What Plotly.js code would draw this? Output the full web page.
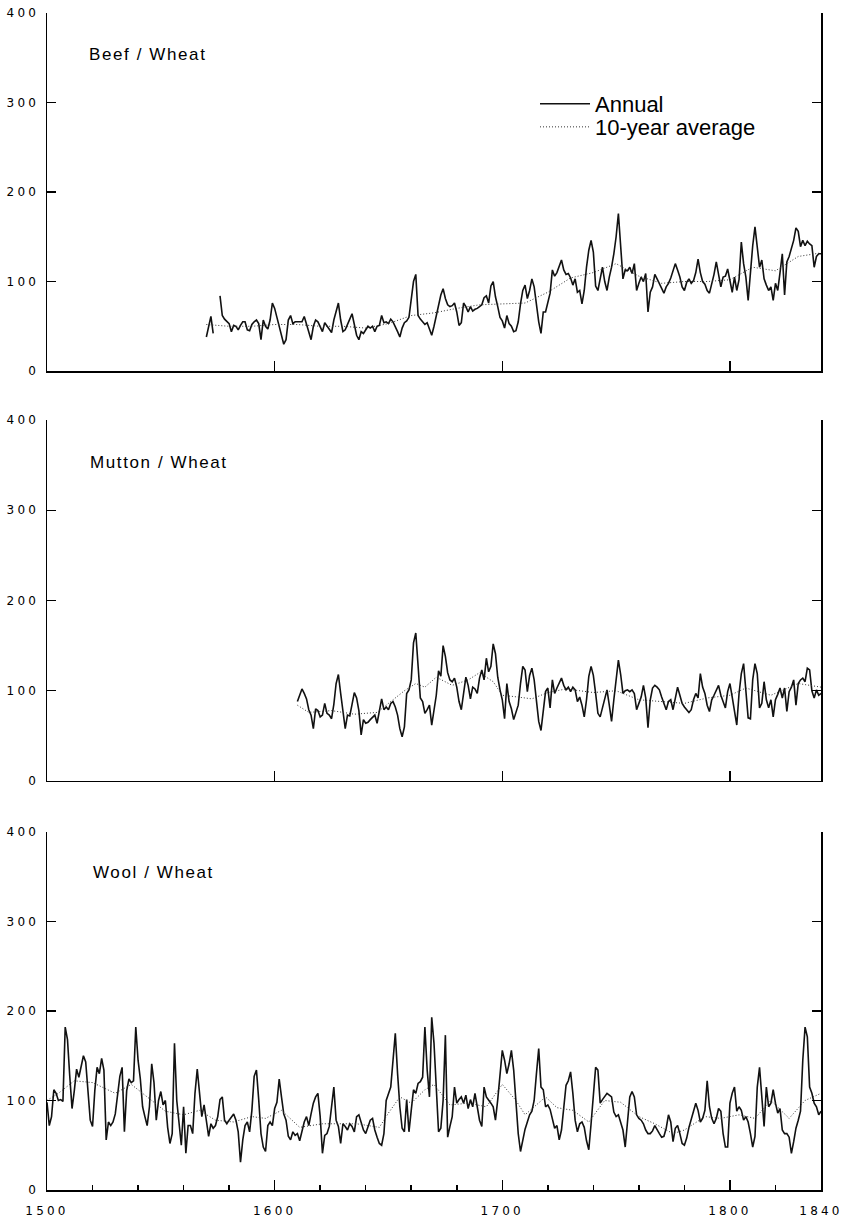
<!DOCTYPE html>
<html><head><meta charset="utf-8">
<script src="https://cdn.plot.ly/plotly-3.0.1.min.js"></script>
<style>
html,body{margin:0;padding:0;background:#fff;}
#chart{width:847px;height:1223px;}
.xaxislayer-above g text, .yaxislayer-above g text{letter-spacing:3.2px;}
.annotation-text{letter-spacing:1.6px;}
</style></head><body><div id="chart"></div>
<script>
// ---------------- DATA ----------------
const beefStart = 1570;
const beefAnnual = [
 38,50,61,42,null,null,84,62,58,55,
 53,44,51,50,46,51,55,55,46,45,
 52,55,57,53,35,57,50,47,57,76,
 70,60,50,38,30,35,57,62,53,55,
 55,55,55,61,53,44,35,50,57,55,
 50,44,54,50,46,43,57,68,76,57,
 44,46,53,58,64,50,40,35,44,42,
 46,50,48,50,44,50,51,62,54,55,
 53,58,55,50,44,38,48,54,56,60,
 80,100,108,62,58,55,52,54,48,40,
 50,62,72,85,92,81,74,72,73,76,
 66,51,54,76,72,66,72,67,69,70,
 72,74,82,84,76,95,100,83,72,60,
 56,48,62,53,50,44,45,55,75,90,
 96,81,90,103,94,72,55,42,66,66,
 78,87,113,106,110,116,124,113,108,109,
 104,96,103,88,90,75,90,116,135,146,
 133,95,90,103,116,100,90,105,116,131,
 150,176,140,103,113,112,116,109,120,90,
 98,105,100,109,66,88,94,108,103,98,
 92,87,94,98,104,112,120,113,105,94,
 90,99,103,98,101,110,125,110,100,97,
 90,87,96,108,122,108,94,105,106,114,
 100,88,105,90,102,144,120,105,79,110,
 140,161,135,116,124,103,96,90,94,79,
 98,90,110,131,85,122,128,137,146,160,
 156,139,146,140,145,142,140,116,128,131,
 131];
const beefAvgYears = [1570,1580,1590,1600,1610,1620,1630,1640,1650,1660,1670,1680,1690,1700,1710,1720,1730,1740,1750,1760,1770,1780,1790,1800,1810,1820,1830,1840];
const beefAvg = [52,50,50,52,52,50,50,48,53,62,65,70,74,75,76,88,104,110,120,106,98,100,100,102,116,112,128,132];

const muttonStart = 1610;
const muttonAnnual = [
 88,95,102,97,91,79,73,58,80,78,
 71,73,86,75,73,69,85,108,118,97,
 77,58,73,72,85,98,92,78,51,68,
 64,65,68,71,73,64,79,91,79,82,
 79,86,88,82,73,58,49,60,97,101,
 112,153,164,127,92,88,75,79,84,62,
 77,95,122,116,150,138,120,112,110,114,
 104,88,79,97,115,106,91,104,102,97,
 114,123,112,136,121,127,152,141,115,101,
 90,69,108,88,80,68,75,84,108,127,
 123,99,117,125,112,90,66,56,79,99,
 103,81,112,97,103,108,114,106,101,104,
 99,104,101,88,93,84,71,90,116,127,
 117,97,75,71,82,92,101,84,66,90,
 116,134,118,97,100,101,99,101,97,79,
 86,93,106,92,59,90,103,106,104,101,
 93,86,79,88,90,79,90,104,95,86,
 82,79,76,79,90,97,92,119,104,97,
 84,77,90,95,100,106,95,88,81,99,
 108,93,79,62,97,119,130,101,70,69,
 112,130,119,81,86,110,90,81,90,71,
 90,96,103,92,103,77,99,104,112,84,
 108,112,114,110,125,123,100,92,101,95,
 97];
const muttonAvgYears = [1610,1615,1625,1635,1645,1650,1657,1662,1666,1671,1678,1685,1690,1696,1700,1707,1713,1720,1728,1740,1750,1760,1770,1780,1790,1800,1807,1818,1830,1840];
const muttonAvg = [84,76,78,74,76,86,100,108,104,115,106,112,120,110,95,93,91,98,102,98,100,90,88,86,92,95,103,95,108,104];

const woolStart = 1500;
const woolAnnual = [
 98,72,82,112,108,100,101,99,182,168,
 127,91,111,135,126,137,150,143,115,78,
 71,111,137,130,147,134,56,76,72,76,
 85,108,127,137,65,111,124,120,122,182,
 145,124,93,82,72,93,141,120,78,100,
 110,95,100,70,52,63,164,100,72,50,
 93,41,72,72,63,108,135,108,82,95,
 78,60,74,69,72,82,101,104,78,74,
 78,82,85,78,65,31,56,72,76,65,
 89,127,134,101,63,48,43,72,76,72,
 91,98,124,104,85,78,60,56,65,61,
 63,55,65,76,82,72,85,97,104,108,
 82,41,61,63,71,93,115,78,71,52,
 74,71,67,74,71,65,82,84,74,67,
 63,70,78,80,67,59,52,50,63,100,
 108,115,145,175,130,93,69,65,101,65,
 89,112,108,119,121,126,182,134,104,193,
 164,119,65,69,100,173,59,71,82,115,
 97,101,104,97,106,91,101,93,108,93,
 78,71,115,104,101,97,93,78,101,130,
 156,145,130,141,156,134,101,63,43,56,
 68,76,84,88,100,130,158,115,112,93,
 95,90,78,69,72,56,67,93,117,122,
 132,108,78,65,74,76,70,55,45,74,
 108,137,134,97,101,104,108,106,104,87,
 82,84,76,67,48,78,104,110,104,84,
 80,78,74,67,63,63,66,72,67,63,
 59,60,69,84,76,54,69,72,63,52,
 50,58,70,78,88,97,89,76,80,89,
 122,93,80,74,80,91,88,63,48,48,
 97,108,115,88,93,89,78,82,76,63,
 48,60,115,137,101,71,115,93,97,112,
 97,86,91,67,63,63,59,41,54,69,
 78,88,145,182,171,115,108,97,93,84,
 88];
const woolAvgYears = [1500,1505,1512,1520,1530,1537,1546,1552,1560,1567,1574,1582,1590,1596,1603,1611,1621,1636,1646,1650,1655,1660,1666,1670,1677,1685,1693,1700,1706,1710,1719,1724,1731,1738,1745,1752,1760,1767,1775,1780,1789,1796,1804,1811,1818,1826,1833,1840];
const woolAvg = [100,108,122,120,108,118,100,88,84,89,78,76,82,80,89,70,74,74,70,86,104,97,112,118,95,97,93,118,100,84,104,92,89,76,100,98,82,74,63,67,82,80,84,80,100,80,100,108];

const panelTitles = ['Beef / Wheat', 'Mutton / Wheat', 'Wool / Wheat'];
const yTicks = [0, 100, 200, 300, 400];
const centuryTicks = [1600, 1700, 1800];
const bottomTickVals = [1500, 1600, 1700, 1800, 1840];
const bottomTickText = ['1500', '1600', '1700', '1800', '1840'];
const legendNames = ['Annual', '10-year average'];

// ---------------- BUILD ----------------
const yearsFrom = (start, arr) => arr.map((_, i) => start + i);
const FONT = 'Liberation Sans, Arial, sans-serif';
const annualLine = {color: '#111', width: 1.6};
const avgLine = {color: '#333', width: 1, dash: '1px,2px'};

function pair(start, annual, avgYears, avg, xa, ya, show) {
  return [
    {x: yearsFrom(start, annual), y: annual, xaxis: xa, yaxis: ya, type: 'scatter', mode: 'lines',
     line: annualLine, connectgaps: false, name: legendNames[0], showlegend: show, legend: 'legend', hoverinfo: 'skip'},
    {x: avgYears, y: avg, xaxis: xa, yaxis: ya, type: 'scatter', mode: 'lines',
     line: avgLine, name: legendNames[1], showlegend: show, legend: 'legend2', hoverinfo: 'skip'}
  ];
}

const traces = [
  ...pair(beefStart, beefAnnual, beefAvgYears, beefAvg, 'x', 'y', true),
  ...pair(muttonStart, muttonAnnual, muttonAvgYears, muttonAvg, 'x2', 'y2', false),
  ...pair(woolStart, woolAnnual, woolAvgYears, woolAvg, 'x3', 'y3', false)
];

function yAxis(domain) {
  return {domain: domain, range: [0, 400], tickvals: yTicks, ticks: 'inside', ticklen: 9, tickwidth: 1.5,
    tickcolor: '#000', showline: true, linewidth: 1.5, linecolor: '#000', mirror: 'ticks',
    showgrid: false, zeroline: false, fixedrange: true, ticklabelstandoff: 4,
    tickfont: {family: 'DejaVu Sans, sans-serif', size: 12, color: '#000'}};
}
function xAxis(anchor, bottom) {
  const a = {anchor: anchor, domain: [0, 1], range: [1500, 1840], showline: true, linewidth: 1.5,
    linecolor: '#000', ticks: 'inside', ticklen: 10, tickwidth: 1.5, tickcolor: '#000',
    showgrid: false, zeroline: false, fixedrange: true, mirror: false,
    tickfont: {family: 'DejaVu Sans, sans-serif', size: 12, color: '#000'}};
  if (bottom) {
    a.tickvals = bottomTickVals; a.ticktext = bottomTickText; a.showticklabels = true;
    a.ticklabelstandoff = 9;
    a.minor = {tickmode: 'linear', tick0: 1500, dtick: 20, ticks: 'inside', ticklen: 5, tickwidth: 1.5, tickcolor: '#000', showgrid: false};
  } else {
    a.tickvals = centuryTicks; a.showticklabels = false;
  }
  return a;
}

const layout = {
  width: 847, height: 1223,
  margin: {l: 47, r: 26, t: 13, b: 33},
  paper_bgcolor: '#fff', plot_bgcolor: '#fff',
  font: {family: FONT, color: '#000'},
  showlegend: true,
  xaxis: xAxis('y', false), yaxis: yAxis([0.6958, 1]),
  xaxis2: xAxis('y2', false), yaxis2: yAxis([0.3475, 0.6542]),
  xaxis3: xAxis('y3', true), yaxis3: yAxis([0, 0.3042]),
  legend: {x: 0.6305, y: 0.9227, xanchor: 'left', yanchor: 'middle', itemwidth: 50,
    font: {family: FONT, size: 22, color: '#000'}, bgcolor: 'rgba(0,0,0,0)', borderwidth: 0},
  legend2: {x: 0.6305, y: 0.9031, xanchor: 'left', yanchor: 'middle', itemwidth: 50,
    font: {family: FONT, size: 22, color: '#000'}, bgcolor: 'rgba(0,0,0,0)', borderwidth: 0},
  annotations: panelTitles.map((t, i) => ({
    text: t, xref: 'paper', yref: (i === 0 ? 'y' : 'y' + (i + 1)) + ' domain',
    x: [0.052, 0.053, 0.057][i], y: [0.883, 0.881, 0.888][i],
    xanchor: 'left', yanchor: 'middle', showarrow: false,
    font: {family: FONT, size: 17, color: '#000'}
  }))
};

Plotly.newPlot('chart', traces, layout, {staticPlot: true, displayModeBar: false});
</script></body></html>
